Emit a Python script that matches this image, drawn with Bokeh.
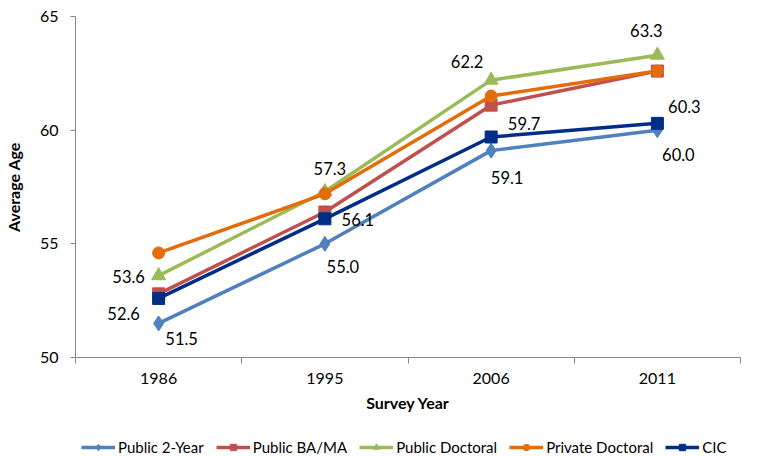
from bokeh.plotting import figure
from bokeh.layouts import column
from bokeh.models import FixedTicker, Legend, LegendItem, ColumnDataSource, Range1d
from bokeh.core.properties import value
from bokeh.embed import file_html
from bokeh.resources import INLINE

years = ["1986", "1995", "2006", "2011"]
public_2year = [51.5, 55.0, 59.1, 60.0]
public_bama = [52.8, 56.4, 61.1, 62.6]
public_doctoral = [53.6, 57.3, 62.2, 63.3]
private_doctoral = [54.6, 57.2, 61.5, 62.6]
cic = [52.6, 56.1, 59.7, 60.3]
y_ticks = [50, 55, 60, 65]

FONT = "Lato"
GRAY = "#868686"

xs = [i + 0.5 for i in range(len(years))]

p = figure(width=771, height=425, output_backend="svg", toolbar_location=None,
           x_range=Range1d(0, len(years)), y_range=Range1d(50, 65),
           min_border_left=74, min_border_right=31, min_border_top=16, min_border_bottom=68)
p.outline_line_color = None
p.xgrid.grid_line_color = None
p.ygrid.grid_line_color = None
p.background_fill_color = "white"
p.border_fill_color = "white"

# axes
p.xaxis.ticker = FixedTicker(ticks=xs, minor_ticks=list(range(len(years) + 1)))
p.xaxis.major_label_overrides = {x: y for x, y in zip(xs, years)}
p.xaxis.major_tick_line_color = None
p.xaxis.major_tick_out = 0
p.xaxis.minor_tick_line_color = GRAY
p.xaxis.minor_tick_out = 6
p.xaxis.minor_tick_in = 0
p.xaxis.axis_line_color = GRAY
p.xaxis.axis_label = "Survey Year"
p.yaxis.ticker = FixedTicker(ticks=y_ticks)
p.yaxis.minor_tick_line_color = None
p.yaxis.major_tick_out = 5
p.yaxis.major_tick_in = 0
p.yaxis.major_tick_line_color = GRAY
p.yaxis.axis_line_color = GRAY
p.yaxis.axis_label = "Average Age"
for ax in (p.xaxis, p.yaxis):
    ax.major_label_text_font = FONT
    ax.major_label_text_font_size = "16px"
    ax.major_label_text_color = "black"
    ax.axis_label_text_font = FONT
    ax.axis_label_text_font_size = "16px"
    ax.axis_label_text_font_style = "bold"
    ax.axis_label_text_color = "black"
p.yaxis.major_label_standoff = 12
p.yaxis.axis_label_standoff = 14
p.xaxis.major_label_standoff = 9
p.xaxis.axis_label_standoff = 6

series = [
    ("Public 2-Year", public_2year, "#4F81BD", "diamond", 15),
    ("Public BA/MA", public_bama, "#C0504D", "square", 12),
    ("Public Doctoral", public_doctoral, "#9BBB59", "triangle", 14),
    ("Private Doctoral", private_doctoral, "#E46C0A", "circle", 12),
    ("CIC", cic, "#002D86", "square", 12),
]

# legend-only strip below the chart (no axes, its ranges show none of the data)
lf = figure(width=771, height=31, output_backend="svg", toolbar_location=None,
            x_range=Range1d(100, 101), y_range=Range1d(100, 101),
            x_axis_location=None, y_axis_location=None,
            min_border_left=74, min_border_right=31, min_border_top=0, min_border_bottom=0,
            outline_line_color=None)
lf.grid.visible = False
lf.border_fill_color = "white"
lf.background_fill_color = "white"

items = []
for name, vals, color, marker, size in series:
    src = ColumnDataSource(dict(x=xs, y=vals))
    p.line("x", "y", source=src, line_color=color, line_width=3.5)
    p.scatter("x", "y", source=src, marker=marker, size=size, fill_color=color, line_color=color)
    ll = lf.line("x", "y", source=src, line_color=color, line_width=3.5)
    ls = lf.scatter("x", "y", source=src, marker=marker, size=size - 2, fill_color=color, line_color=color)
    items.append(LegendItem(label=name, renderers=[ll, ls]))

def labels(vals, xoffs, yoffs):
    src = ColumnDataSource(dict(x=xs, y=vals, t=[f"{v:.1f}" for v in vals],
                                xo=xoffs, yo=yoffs))
    p.text("x", "y", text="t", source=src, x_offset="xo", y_offset="yo", text_align="center",
           text_baseline="middle", text_font=value(FONT), text_font_size="16.5px", text_color="black")

labels(public_2year, [23, 18, 16, 21], [15, 23, 27, 24])
labels(public_doctoral, [-30, 5, -24, -11], [1, -23, -19, -25])
labels(cic, [-35, 33, 33, 27], [15, 1, -13, -17])

legend = Legend(items=items, orientation="horizontal", location=(6, 0),
                label_text_font=FONT, label_text_font_size="15px", label_text_color="black",
                glyph_width=34, glyph_height=16, label_standoff=3, spacing=12,
                padding=0, margin=0, border_line_color=None, background_fill_alpha=0)
lf.add_layout(legend, "center")

layout = column(p, lf, spacing=0)
open("out.html", "w").write(file_html(layout, INLINE))
